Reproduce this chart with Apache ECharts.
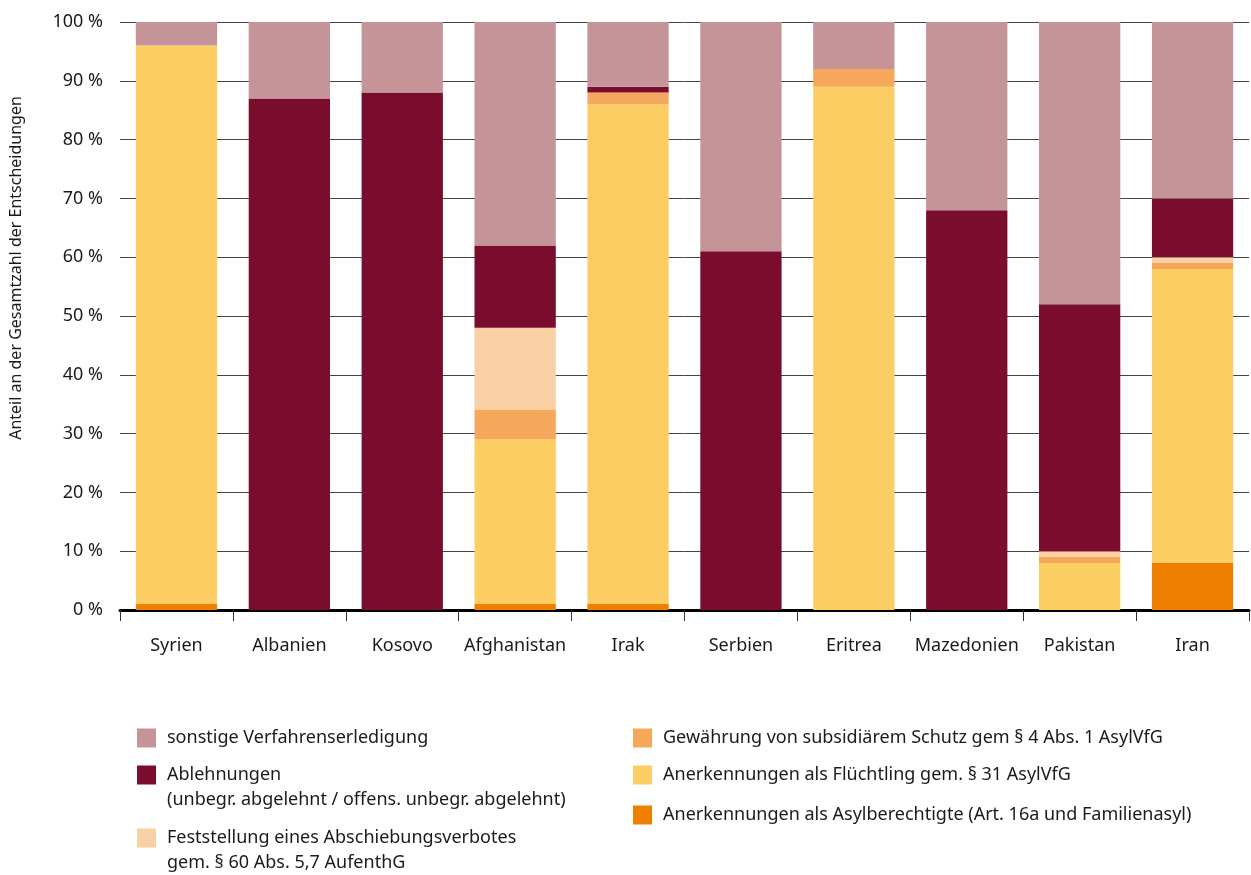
<!DOCTYPE html>
<html>
<head>
<meta charset="utf-8">
<script src="https://cdn.jsdelivr.net/npm/echarts@6/dist/echarts.min.js"></script>
<style>
html,body{margin:0;padding:0;background:#fff;}
#chart{width:1251px;height:875px;}
</style>
</head>
<body>
<div id="chart"></div>
<script>
const categories = ['Syrien','Albanien','Kosovo','Afghanistan','Irak','Serbien','Eritrea','Mazedonien','Pakistan','Iran'];
const asylberechtigte = [1, 0, 0, 1, 1, 0, 0, 0, 0, 8];
const fluechtling     = [95, 0, 0, 28, 85, 0, 89, 0, 8, 50];
const subsidiaer      = [0, 0, 0, 5, 2, 0, 3, 0, 1, 1];
const abschiebung     = [0, 0, 0, 14, 0, 0, 0, 0, 1, 1];
const ablehnungen     = [0, 87, 88, 14, 1, 61, 0, 68, 42, 10];
const sonstige        = [4, 13, 12, 38, 11, 39, 8, 32, 48, 30];
const yTicks = [0,10,20,30,40,50,60,70,80,90,100];

const names = {
  sonst: 'sonstige Verfahrenserledigung',
  abl: 'Ablehnungen',
  abs: 'Feststellung eines Abschiebungsverbotes',
  sub: 'Gewährung von subsidiärem Schutz gem § 4 Abs. 1 AsylVfG',
  fl: 'Anerkennungen als Flüchtling gem. § 31 AsylVfG',
  asyl: 'Anerkennungen als Asylberechtigte (Art. 16a und Familienasyl)'
};
const colors = {
  sonst: '#c49498', abl: '#7a0c2e', abs: '#f9cfa4', sub: '#f5a85c', fl: '#fccd63', asyl: '#ee7f00'
};
const FONT = 'Noto Sans';
const FS = 18;

function bar(key, data) {
  return {
    name: names[key], type: 'bar', stack: 'total', data: data,
    barCategoryGap: '28%',
    itemStyle: { color: colors[key] },
    emphasis: { disabled: true }
  };
}
function leg(key, left, centerY) {
  return {
    data: [names[key]], left: left, top: centerY - 11, padding: 0,
    icon: 'rect', itemWidth: 19, itemHeight: 19,
    selectedMode: false,
    textStyle: { fontFamily: FONT, fontSize: FS, color: '#1a1a1a', lineHeight: 22, padding: [0,0,0,6] }
  };
}

const chart = echarts.init(document.getElementById('chart'), null, { renderer: 'canvas' });
chart.setOption({
  animation: false,
  textStyle: { fontFamily: FONT },
  grid: { left: 120, right: 2, top: 22, bottom: 265, containLabel: false, outerBoundsMode: 'none' },
  xAxis: {
    type: 'category', data: categories,
    axisLine: { lineStyle: { color: '#000', width: 3 } },
    axisTick: { show: true, interval: 0, length: 11, lineStyle: { color: '#333', width: 1 } },
    axisLabel: { interval: 0, fontFamily: FONT, fontSize: FS, color: '#1a1a1a', margin: 27 }
  },
  yAxis: {
    type: 'value', min: 0, max: 100, interval: 10,
    name: 'Anteil an der Gesamtzahl der Entscheidungen',
    nameLocation: 'middle', nameGap: 96, nameRotate: 90,
    nameTextStyle: { fontFamily: FONT, fontSize: 16, color: '#1a1a1a', padding: [0,0,0,96] },
    axisLine: { show: false }, axisTick: { show: false },
    axisLabel: { fontFamily: FONT, fontSize: FS, color: '#1a1a1a', margin: 17,
      formatter: v => yTicks.includes(v) ? v + ' %' : '' },
    splitLine: { lineStyle: { color: '#444', width: 1 } }
  },
  legend: [
    leg('sonst', 137, 738),
    leg('abl', 137, 775),
    leg('abs', 137, 838),
    leg('sub', 633, 738),
    leg('fl', 633, 775),
    leg('asyl', 633, 815)
  ],
  graphic: [
    { type: 'text', left: 167, top: 802 - 11, style: { text: '(unbegr. abgelehnt / offens. unbegr. abgelehnt)', font: FS + 'px "' + FONT + '"', fill: '#1a1a1a' } },
    { type: 'text', left: 167, top: 865 - 11, style: { text: 'gem. § 60 Abs. 5,7 AufenthG', font: FS + 'px "' + FONT + '"', fill: '#1a1a1a' } }
  ],
  series: [
    bar('asyl', asylberechtigte),
    bar('fl', fluechtling),
    bar('sub', subsidiaer),
    bar('abs', abschiebung),
    bar('abl', ablehnungen),
    bar('sonst', sonstige)
  ]
});
</script>
</body>
</html>
